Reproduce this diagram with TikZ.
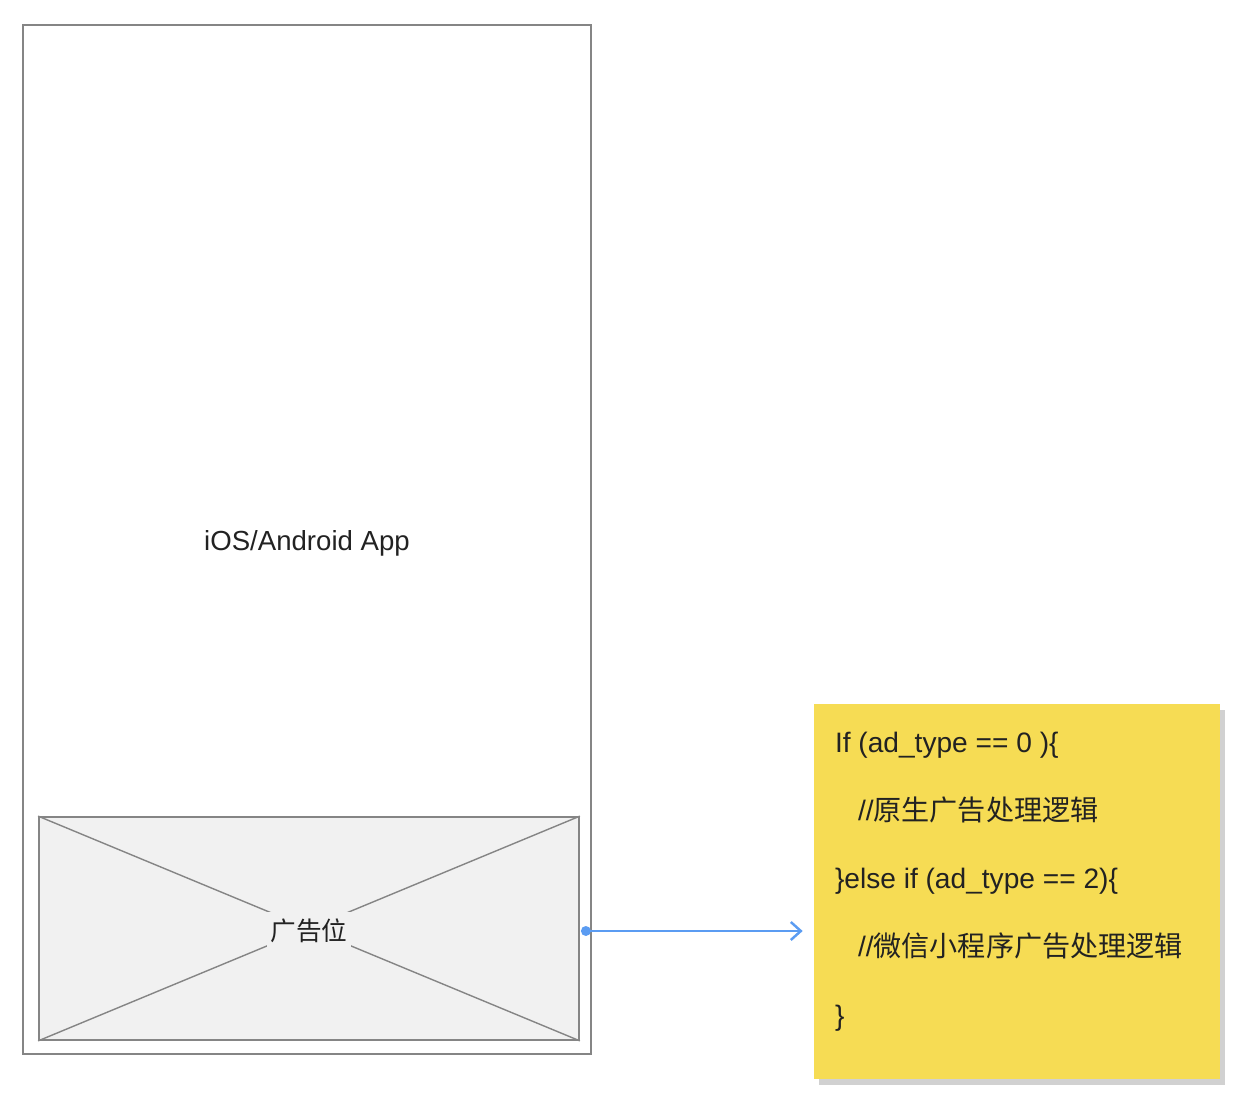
\documentclass[tikz,border=0pt]{standalone}
\usepackage{fontspec}
\setmainfont{Liberation Sans}
\newfontfamily\cjk{Noto Sans CJK SC}
\usepackage{tikz}
\usetikzlibrary{arrows.meta,shadows}
\definecolor{framegray}{HTML}{858585}
\definecolor{slotgray}{HTML}{F1F1F1}
\definecolor{noteyellow}{HTML}{F6DC54}
\definecolor{linkblue}{HTML}{5B9CF2}
\definecolor{inkgray}{HTML}{222222}

\begin{document}
\begin{tikzpicture}[
  frame/.style={rectangle, draw=framegray, line width=1pt, inner sep=0pt},
  note/.style={rectangle, fill=noteyellow, minimum width=8.12cm, minimum height=7.5cm, inner sep=0pt,
               drop shadow={shadow xshift=0.1cm, shadow yshift=-0.12cm, fill=black, opacity=0.18}},
  code/.style={inner sep=0pt, align=left, text=inkgray, font=\fontsize{16pt}{38.8pt}\selectfont},
  link/.style={draw=linkblue, line width=1.4pt, -{Straight Barb[length=0.2cm,width=0.36cm]}}]
  \useasboundingbox (0,0) rectangle (25,-22.12);
  \node[frame, minimum width=11.36cm, minimum height=20.58cm, text=inkgray,
        text height=0.56cm, text depth=0.12cm,
        font=\fontsize{15.7pt}{18pt}\selectfont] (app) at (6.14,-10.79) {iOS/Android App};
  \node[frame, fill=slotgray, minimum width=10.8cm, minimum height=4.46cm] (slot) at (6.18,-18.57) {};
  \draw[framegray, line width=0.8pt] (slot.north west) -- (slot.south east)
                                     (slot.south west) -- (slot.north east);
  \node[fill=slotgray, inner xsep=0.07cm, inner ysep=0.14cm, text=inkgray,
        font=\cjk\fontsize{14.6pt}{17pt}\selectfont] (slotname) at ([yshift=-0.05cm]slot.center) {广告位};
  \node[note] (note) at (20.34,-17.83) {};
  \node[code, anchor=north west] (logic) at ([xshift=0.42cm, yshift=-0.56cm]note.north west)
       {If (ad\_type == 0 )\{\\
        \hspace*{0.46cm}//{\cjk 原生广告处理逻辑}\\
        \}else if (ad\_type == 2)\{\\
        \hspace*{0.46cm}//{\cjk 微信小程序广告处理逻辑}\\
        \}};
  \fill[linkblue] ([xshift=0.12cm, yshift=-0.05cm]slot.east) circle (0.1cm);
  \draw[link, shorten >=0.22cm] ([xshift=0.12cm, yshift=-0.05cm]slot.east)
       -- ([yshift=-0.05cm]note.west |- slot.east);
\end{tikzpicture}
\end{document}
